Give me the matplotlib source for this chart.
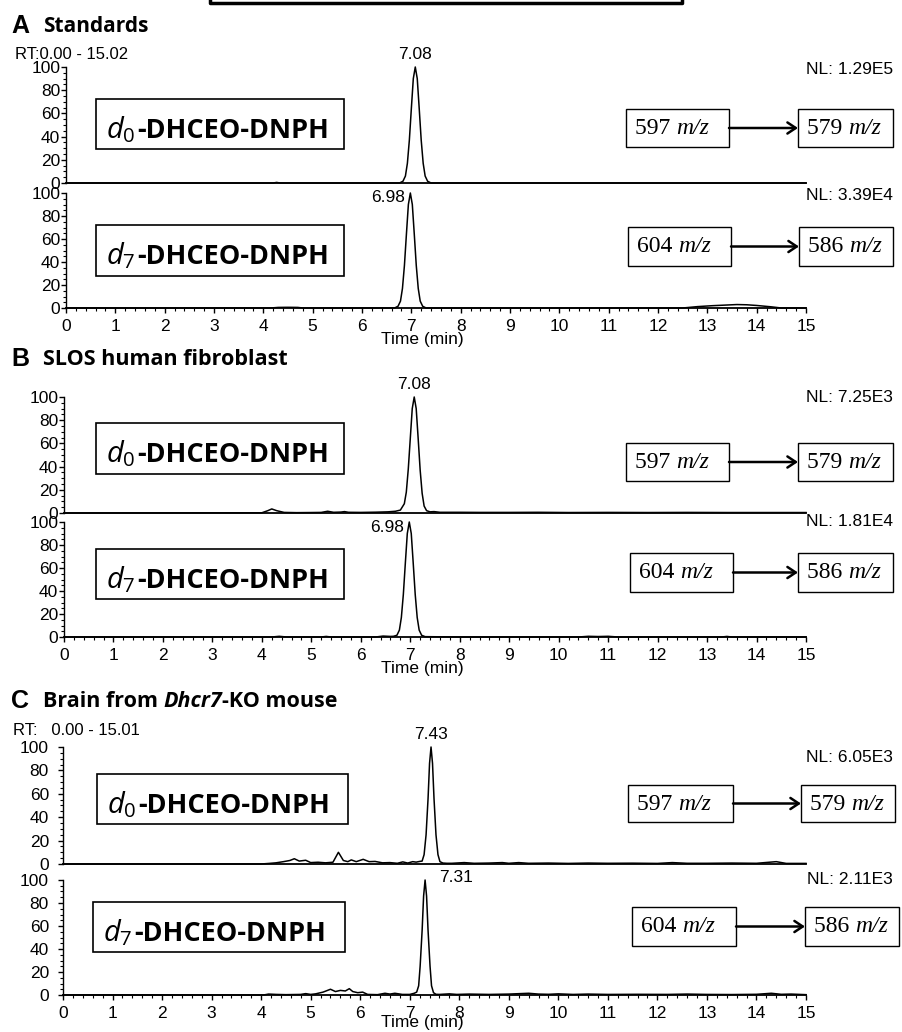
import matplotlib.pyplot as plt
from matplotlib import font_manager
from matplotlib.patches import Rectangle, FancyArrowPatch
from matplotlib.lines import Line2D
from matplotlib.ticker import MultipleLocator

plt.rcParams['font.family'] = ['Liberation Sans', 'DejaVu Sans']
plt.rcParams['mathtext.fontset'] = 'custom'
plt.rcParams['mathtext.it'] = 'Open Sans:italic'
plt.rcParams['mathtext.rm'] = 'Open Sans'

installed = {f.name for f in font_manager.fontManager.ttflist}
NARROW = 'Liberation Sans Narrow' if 'Liberation Sans Narrow' in installed else 'Liberation Sans'

# ---- data (time in min, relative abundance %) ----
A1_time = [0.0, 4.20, 4.27, 4.34, 6.76, 6.83, 6.88, 6.92, 6.96, 7.00, 7.04, 7.08, 7.12, 7.16,
           7.20, 7.24, 7.28, 7.33, 7.40, 15.0]
A1_int = [0, 0, 0.5, 0, 0, 1.5, 6, 17, 37, 64, 90, 100, 90, 64, 37, 17, 6, 1.5, 0, 0]

A2_time = [0.0, 4.15, 4.30, 4.50, 4.70, 4.80, 6.66, 6.73, 6.78, 6.82, 6.86, 6.90, 6.94, 6.98,
           7.02, 7.06, 7.10, 7.14, 7.18, 7.23, 7.30, 12.5, 12.8, 13.1, 13.4, 13.6, 13.8, 14.0,
           14.3, 14.5, 15.0]
A2_int = [0, 0, 0.5, 0.6, 0.5, 0, 0, 1.5, 6, 17, 37, 64, 90, 100, 90, 64, 37, 17, 6, 1.5, 0,
          0, 1.2, 2.0, 2.6, 3.0, 2.8, 2.2, 1.0, 0, 0]

B1_time = [0.0, 4.00, 4.12, 4.20, 4.30, 4.45, 4.70, 5.00, 5.20, 5.33, 5.45, 5.60, 5.67, 5.75,
           6.00, 6.30, 6.55, 6.70, 6.80, 6.88, 6.92, 6.96, 7.00, 7.04, 7.08, 7.12, 7.16, 7.20,
           7.24, 7.28, 7.33, 7.40, 7.48, 7.60, 8.00, 8.40, 9.00, 9.60, 10.2, 11.0, 11.8, 12.6,
           13.4, 14.2, 15.0]
B1_int = [0, 0.2, 2.0, 3.5, 2.0, 0.5, 0.3, 0.4, 0.5, 1.5, 0.6, 0.8, 1.2, 0.6, 0.5, 0.7, 1.0,
          1.5, 2.5, 8, 18, 38, 64, 90, 100, 90, 64, 37, 17, 6, 2.0, 1.0, 1.2, 0.6, 0.6, 0.5,
          0.5, 0.6, 0.4, 0.5, 0.4, 0.5, 0.4, 0.4, 0.4]

B2_time = [0.0, 4.20, 4.35, 4.50, 5.20, 5.30, 5.40, 6.30, 6.45, 6.60, 6.66, 6.73, 6.78, 6.82,
           6.86, 6.90, 6.94, 6.98, 7.02, 7.06, 7.10, 7.14, 7.18, 7.23, 7.30, 8.0, 10.4, 10.6,
           10.8, 11.0, 11.2, 13.3, 13.4, 13.5, 15.0]
B2_int = [0, 0, 0.6, 0, 0, 0.5, 0, 0, 0.8, 0.5, 0.6, 1.5, 6, 17, 37, 64, 90, 100, 90, 64, 37,
          17, 6, 1.5, 0.3, 0, 0, 0.6, 0.4, 0.6, 0, 0, 0.5, 0, 0]

C1_time = [0.0, 4.00, 4.16, 4.30, 4.45, 4.58, 4.67, 4.77, 4.90, 5.00, 5.15, 5.30, 5.45, 5.56,
           5.66, 5.75, 5.82, 5.92, 6.06, 6.18, 6.30, 6.45, 6.60, 6.75, 6.86, 6.96, 7.06, 7.13,
           7.20, 7.25, 7.29, 7.33, 7.37, 7.40, 7.43, 7.46, 7.49, 7.53, 7.57, 7.61, 7.67, 7.75,
           7.85, 8.10, 8.30, 8.60, 8.87, 9.00, 9.20, 9.40, 9.80, 10.2, 10.6, 11.0, 11.5, 12.0,
           12.3, 12.6, 13.0, 13.5, 14.0, 14.4, 14.6, 15.0]
C1_int = [0, 0, 0.5, 1.0, 2.0, 3.0, 4.5, 2.5, 3.2, 1.2, 1.5, 1.0, 1.5, 10.0, 3.0, 2.0, 3.5,
          2.0, 4.0, 2.0, 2.2, 1.0, 1.2, 0.6, 1.8, 0.8, 2.0, 1.6, 2.2, 2.5, 8, 25, 56, 86, 100,
          86, 56, 25, 8, 2.0, 0.8, 0.6, 0.6, 1.2, 0.6, 0.8, 1.2, 0.6, 1.2, 0.6, 0.8, 0.5, 0.8,
          0.6, 0.7, 0.5, 1.2, 0.6, 0.6, 0.8, 0.6, 2.0, 0.5, 0.5]

C2_time = [0.0, 4.05, 4.15, 4.30, 4.50, 4.80, 4.90, 5.00, 5.10, 5.25, 5.40, 5.50, 5.60, 5.70,
           5.78, 5.85, 5.95, 6.05, 6.15, 6.35, 6.50, 6.60, 6.70, 6.85, 7.00, 7.09, 7.14, 7.18,
           7.21, 7.25, 7.28, 7.31, 7.34, 7.37, 7.41, 7.44, 7.48, 7.53, 7.60, 7.80, 7.95, 8.20,
           8.60, 9.00, 9.40, 9.60, 9.80, 10.0, 10.3, 10.6, 11.0, 11.6, 12.2, 12.6, 13.0, 13.5,
           14.0, 14.3, 14.5, 14.7, 15.0]
C2_int = [0, 0, 0.8, 0.5, 0.3, 0.5, 1.2, 0.5, 1.0, 2.5, 5.0, 3.0, 4.0, 3.5, 5.5, 3.0, 2.0,
          2.5, 0.5, 0.3, 1.5, 0.8, 1.5, 0.5, 0.5, 1.5, 2.5, 8, 25, 56, 86, 100, 86, 56, 25, 8,
          2.0, 0.6, 0.5, 1.0, 0.5, 0.8, 0.5, 0.8, 1.5, 0.8, 0.6, 1.0, 0.5, 0.8, 0.5, 0.6, 0.5,
          0.8, 0.5, 0.4, 0.6, 1.5, 0.6, 0.8, 0.3]

peak_labels = ['7.08', '6.98', '7.08', '6.98', '7.43', '7.31']
peak_times = [7.08, 6.98, 7.08, 6.98, 7.43, 7.31]
nl_labels = ['NL: 1.29E5', 'NL: 3.39E4', 'NL: 7.25E3', 'NL: 1.81E4', 'NL: 6.05E3', 'NL: 2.11E3']
analytes = ['0', '7', '0', '7', '0', '7']
precursors = ['597', '604', '597', '604', '597', '604']
products = ['579', '586', '579', '586', '579', '586']

W, H = 902, 1032
fig = plt.figure(figsize=(W / 100, H / 100), dpi=100)


def fx(x):
    return x / W


def fy(y):
    return 1 - y / H


def ftext(x, y, s, **kw):
    return fig.text(fx(x), fy(y), s, **kw)


def rect(x0, y0, x1, y1, lw=1.0):
    fig.add_artist(Rectangle((fx(x0), fy(y1)), fx(x1) - fx(x0), fy(y0) - fy(y1),
                             transform=fig.transFigure, fill=False, ec='black', lw=lw))


def trace(x0, top, bot, t, y, show_x, tickfont, ypad):
    ax = fig.add_axes([fx(x0), fy(bot), fx(806) - fx(x0), fy(top) - fy(bot)])
    ax.plot(t, y, color='black', lw=1.1, clip_on=False)
    ax.set_xlim(0, 15)
    ax.set_ylim(0, 100)
    ax.patch.set_alpha(0)
    for s in ['top', 'right']:
        ax.spines[s].set_visible(False)
    ax.spines['left'].set_linewidth(1.0)
    ax.spines['bottom'].set_linewidth(1.3)
    ax.set_yticks([0, 20, 40, 60, 80, 100])
    ax.yaxis.set_minor_locator(MultipleLocator(5))
    ax.tick_params(axis='y', which='major', length=3.6, width=1, pad=ypad, labelsize=12.5)
    ax.tick_params(axis='y', which='minor', length=2.2, width=0.8)
    if show_x:
        ax.set_xticks(range(16))
        ax.xaxis.set_minor_locator(MultipleLocator(0.2))
        ax.tick_params(axis='x', which='major', length=3.6, width=1, pad=4.5, labelsize=12.5)
        ax.tick_params(axis='x', which='minor', length=2.2, width=0.8)
    else:
        ax.tick_params(axis='x', which='both', bottom=False, labelbottom=False)
    for lab in ax.get_xticklabels() + ax.get_yticklabels():
        lab.set_family(tickfont)
    return ax


# cropped frame at the very top
fig.add_artist(Line2D([fx(210), fx(210), fx(682), fx(682)], [fy(-5), fy(3), fy(3), fy(-5)],
                      transform=fig.transFigure, color='black', lw=2.5))

# panel titles
ftext(11, 33, 'A', fontsize=18, fontweight='bold', va='baseline')
ftext(43, 32, 'Standards', fontsize=15, fontweight='bold', family='Open Sans', va='baseline')
ftext(11, 366, 'B', fontsize=18, fontweight='bold', va='baseline')
ftext(43, 365, 'SLOS human fibroblast', fontsize=15.5, fontweight='bold', family='Open Sans',
      va='baseline')
ftext(11, 708, 'C', fontsize=18, fontweight='bold', va='baseline')
tc = ftext(43, 707, 'Brain from ', fontsize=15.5, fontweight='bold', family='Open Sans',
           va='baseline')
ftext(15, 59, 'RT:0.00 - 15.02', fontsize=12, va='baseline')
ftext(13, 735, 'RT:   0.00 - 15.01', fontsize=12, va='baseline')

# axes geometry per trace: left x, y of 100, y of 0
geom = [(66, 67, 183), (66, 193, 308), (64, 397, 513), (64, 522, 637), (63, 747, 864),
        (63, 880, 995)]
traces = [(A1_time, A1_int), (A2_time, A2_int), (B1_time, B1_int), (B2_time, B2_int),
          (C1_time, C1_int), (C2_time, C2_int)]
label_boxes = [(96, 99, 344, 149), (96, 225, 344, 276), (96, 423, 344, 474),
               (96, 549, 344, 599), (97, 774, 348, 824), (93, 902, 345, 952)]
mz_boxes = [(626, 729, 798, 893, 109, 147), (628, 731, 799, 893, 227, 266),
            (626, 729, 798, 893, 443, 481), (630, 733, 798, 893, 553, 592),
            (628, 733, 801, 895, 785, 822), (632, 736, 805, 899, 907, 946)]
nl_y = [70, 195, 397, 521, 758, 880]

axes = []
for i in range(6):
    x0, top, bot = geom[i]
    t, y = traces[i]
    panel_c = i >= 4
    ax = trace(x0, top, bot, t, y, i % 2 == 1, NARROW if panel_c else 'Liberation Sans',
               6.5 if panel_c else 0.5)
    axes.append(ax)

    # retention time of the peak
    if i in (0, 2, 4):
        ax.annotate(peak_labels[i], (peak_times[i], 100), xytext=(0, 5),
                    textcoords='offset pixels', ha='center', va='bottom', fontsize=12.5,
                    annotation_clip=False)
    elif i in (1, 3):
        ax.annotate(peak_labels[i], (peak_times[i], 100), xytext=(-5, -5),
                    textcoords='offset pixels', ha='right', va='center', fontsize=12.5,
                    annotation_clip=False)
    else:
        ax.annotate(peak_labels[i], (peak_times[i], 100), xytext=(14, 3),
                    textcoords='offset pixels', ha='left', va='center', fontsize=12.5,
                    annotation_clip=False)

    ftext(893, nl_y[i], nl_labels[i], ha='right', va='center', fontsize=12.5)

    # compound label box
    bx0, by0, bx1, by1 = label_boxes[i]
    rect(bx0, by0, bx1, by1, lw=1.2)
    ftext(bx0 + 10, by0 + 39, r'$d_{%s}$' % analytes[i], fontsize=21, va='baseline')
    ftext(bx0 + 41, by0 + 39, '-DHCEO-DNPH', fontsize=19.5, fontweight='bold',
          family='Open Sans', va='baseline')

    # SRM transition boxes
    l0, l1, r0, r1, my0, my1 = mz_boxes[i]
    rect(l0, my0, l1, my1)
    rect(r0, my0, r1, my1)
    ym = (my0 + my1) / 2
    for xl, num in ((l0, precursors[i]), (r0, products[i])):
        tn = ftext(xl + 9, ym + 6, num + ' ', fontsize=17, family='Liberation Serif',
                   va='baseline')
        ax.annotate('m/z', (1, 0), xycoords=tn, va='bottom', ha='left', fontsize=17,
                    family='Liberation Serif', style='italic', annotation_clip=False)
    fig.add_artist(FancyArrowPatch((fx(l1), fy(ym)), (fx(r0), fy(ym)),
                                   transform=fig.transFigure,
                                   arrowstyle='->,head_length=6,head_width=4',
                                   lw=1.8, color='black', shrinkA=0, shrinkB=0))

# panel C title pieces chained after "Brain from "
t2 = axes[0].annotate('Dhcr7', (1, 0), xycoords=tc, va='bottom', fontsize=15.5,
                      fontweight='bold', style='italic', family='Open Sans',
                      annotation_clip=False)
axes[0].annotate('-KO mouse', (1, 0), xycoords=t2, va='bottom', fontsize=15.5,
                 fontweight='bold', family='Open Sans', annotation_clip=False)

# x axis titles
ftext(422, 340, 'Time (min)', ha='center', va='center', fontsize=12.5)
ftext(422, 668, 'Time (min)', ha='center', va='center', fontsize=12.5)
ftext(422, 1023, 'Time (min)', ha='center', va='center', fontsize=12.5, family=NARROW)

fig.savefig('out.png', dpi=100)
